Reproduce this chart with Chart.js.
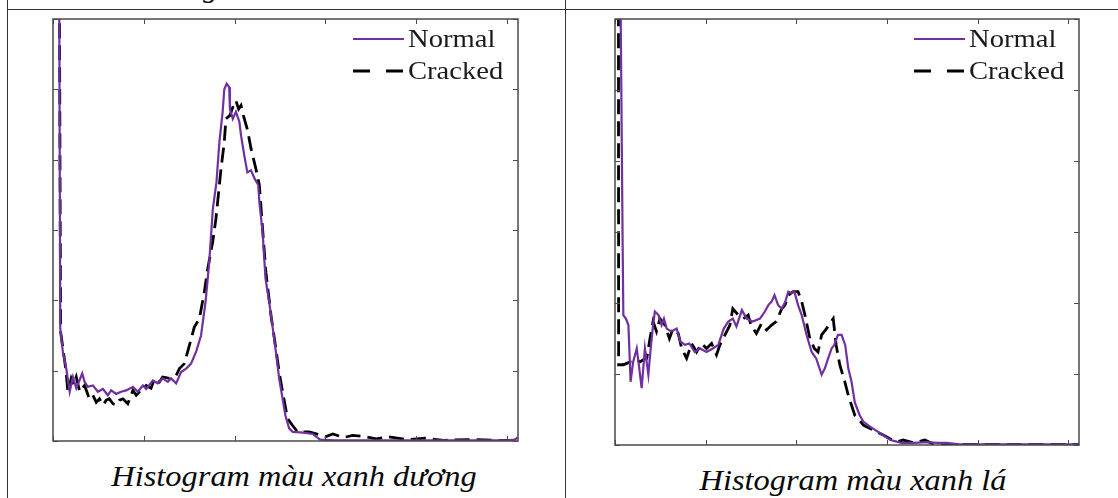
<!DOCTYPE html>
<html>
<head>
<meta charset="utf-8">
<script src="https://cdn.jsdelivr.net/npm/chart.js@4.4.1/dist/chart.umd.min.js"></script>
<style>
  body { margin: 0; background: #fff; width: 1118px; height: 498px; overflow: hidden; position: relative; }
  .rule { position: absolute; background: #333; }
  canvas { position: absolute; }
  .caption {
    position: absolute; width: 400px; text-align: center;
    font-family: "Liberation Serif", "Times New Roman", serif;
    font-style: italic; font-size: 30px;
    line-height: 30px; color: #0a0a0a; transform: scaleX(1.08);
  }
</style>
</head>
<body>
<div class="rule" style="left:7px; top:9px; width:1111px; height:1px;"></div>
<div class="rule" style="left:7px; top:0; width:1px; height:498px;"></div>
<div class="rule" style="left:565px; top:0; width:1px; height:498px;"></div>
<div class="caption" style="left:203px; top:-28px; width:20px; text-align:left; transform:none;">g</div>

<canvas id="blueChart" width="485" height="442" style="left:43px; top:9px;"></canvas>
<canvas id="greenChart" width="484" height="446" style="left:605px; top:9px;"></canvas>

<div class="caption" style="left:94px; top:461px;">Histogram màu xanh dương</div>
<div class="caption" style="left:653px; top:465px;">Histogram màu xanh lá</div>

<script>
// [intensity, count]; y unit = one tick step
const seriesNames = ["Normal", "Cracked"];
const xTicks = [0, 50, 100, 150, 200, 250];
const yTicks = [0, 1, 2, 3, 4, 5, 6];

const blueNormal = [
  [0,60],[2,60],[3,10],[4,1.6],[5.5,1.25],[7.3,1.03],[9.2,0.70],[11,0.91],[12.8,0.75],[16.1,0.96],
  [17.4,0.84],[19.2,0.77],[22,0.79],[24.7,0.70],[27.5,0.74],[30.2,0.65],[32,0.72],[34.8,0.67],[37.5,0.70],
  [40.3,0.72],[44,0.77],[46.7,0.70],[49.5,0.79],[51.3,0.74],[55,0.86],[57.7,0.82],[60.4,0.89],[63.2,0.84],
  [65,0.89],[67.8,0.82],[70.5,0.98],[73.3,1.03],[76,1.10],[78.8,1.27],[81.5,1.50],[84,1.98],[86,2.54],
  [88,3.30],[90,3.68],[91.6,4.25],[93.4,4.68],[94.3,5.0],[95.6,5.08],[97,5.03],[97.4,4.72],[99,4.58],
  [100.7,4.68],[102.6,4.54],[103.5,4.35],[105.3,4.06],[107,3.82],[109,3.85],[111,3.73],[113,3.64],
  [113.6,3.40],[115.4,2.97],[117,2.31],[119,1.98],[121,1.60],[122.7,1.27],[124.5,0.89],[126.4,0.60],
  [128,0.36],[130,0.18],[132,0.13],[138,0.12],[143,0.10],[147,0.02],[155,0.01],[170,0.01],[190,0.01],
  [210,0.01],[230,0.01],[250,0.01],[254,0.02],[256,0.05]
];
const blueCracked = [
  [0,60],[2,60],[3,10],[4.2,1.55],[7,1.03],[8.2,0.70],[10,0.89],[11.4,0.80],[12.8,0.91],[14.7,0.70],
  [17.4,0.79],[20,0.60],[22,0.65],[23.8,0.55],[25.6,0.60],[27.5,0.51],[29.3,0.58],[31,0.60],[33,0.53],
  [34.8,0.51],[36.6,0.58],[38.5,0.60],[41.2,0.53],[44,0.72],[45.8,0.65],[47.6,0.70],[51.3,0.79],[54,0.75],
  [55.9,0.89],[58.6,0.84],[60.4,0.91],[64.1,0.89],[67.8,0.93],[69.6,1.03],[72.3,1.10],[75.1,1.36],
  [77.8,1.62],[80.6,1.74],[83.3,2.12],[85.2,2.45],[87.9,2.83],[89.7,3.16],[92.5,3.87],[94.3,4.25],
  [95.2,4.58],[97.4,4.63],[99.3,4.77],[100.7,4.84],[102.2,4.72],[103.5,4.77],[104.8,4.63],[107.1,4.42],
  [109,4.16],[111.7,3.87],[113.6,3.64],[115.4,3.01],[117.2,2.40],[120,1.79],[122.7,1.31],[124.5,0.98],
  [126.4,0.70],[129.1,0.32],[131.9,0.22],[134.6,0.13],[141,0.13],[145,0.10],[150,0.06],[154,0.10],
  [160,0.05],[165,0.08],[172,0.06],[178,0.03],[185,0.06],[195,0.02],[205,0.04],[215,0.01],[230,0.02],
  [245,0.01],[256,0.01]
];
const greenNormal = [
  [0,60],[2,60],[3,6.5],[4.2,2.86],[4.6,1.83],[6,1.78],[7.4,1.69],[8.6,0.89],[10,1.17],[12,1.36],
  [13.4,1.08],[14.7,0.80],[16.5,1.36],[18.4,0.99],[19.7,1.36],[21,1.69],[22,1.88],[24,1.83],[25.7,1.69],
  [27,1.78],[28.5,1.64],[31,1.60],[34,1.64],[36,1.46],[38.6,1.41],[41,1.43],[44,1.31],[47,1.36],
  [50.5,1.31],[54,1.36],[57,1.41],[60,1.64],[62.5,1.74],[65,1.78],[67,1.67],[70,1.90],[72.6,1.78],
  [76,1.74],[80,1.78],[82.7,1.88],[84.6,1.97],[86.4,2.02],[88,2.11],[90,1.97],[92,1.92],[94,2.02],
  [95.6,2.16],[97.4,2.14],[99,2.16],[101,1.97],[103,1.83],[105.7,1.55],[108.5,1.31],[111,1.22],
  [114,0.99],[115.8,1.08],[117.6,1.22],[119.5,1.36],[121,1.41],[123,1.55],[125,1.55],[127,1.41],
  [128.7,1.08],[130.5,0.89],[132.3,0.60],[135,0.42],[137,0.33],[140.7,0.26],[143,0.22],[146,0.17],
  [149,0.12],[152,0.07],[158,0.03],[165,0.03],[172,0.04],[178,0.03],[183,0.03],[190,0.01],[210,0.01],
  [230,0.01],[256,0.01]
];
const greenCracked = [
  [0,60],[1,60],[2,1.13],[4.6,1.13],[6.5,1.15],[8.3,1.17],[10,1.17],[12,1.20],[13.8,1.17],[15.6,1.20],
  [17.5,1.22],[19.3,1.50],[21,1.74],[22.9,1.60],[24.8,1.78],[27.5,1.69],[30,1.50],[32,1.64],[34.9,1.57],
  [36.8,1.36],[39.5,1.22],[42.3,1.43],[45,1.31],[47.8,1.43],[50.5,1.36],[53.3,1.43],[56,1.27],[57.9,1.41],
  [60.7,1.55],[63.4,1.69],[65,1.92],[68,1.83],[70.8,1.78],[73.5,1.83],[75,1.69],[78,1.57],[80.8,1.71],
  [83.6,1.62],[86.4,1.69],[89,1.74],[92,1.92],[93.8,1.97],[95.6,2.11],[98.3,2.16],[101,2.16],[103,2.02],
  [104.8,1.83],[107.5,1.50],[110,1.36],[112,1.31],[114,1.55],[116.7,1.64],[120.4,1.78],[122,1.41],
  [124,1.13],[126.8,0.89],[128.7,0.70],[130.5,0.56],[132.3,0.42],[134,0.38],[137,0.28],[142.5,0.21],
  [148,0.14],[153,0.07],[156,0.05],[159,0.07],[165,0.03],[171,0.07],[175,0.02],[185,0.01],[200,0.01],
  [220,0.01],[240,0.01],[256,0.01]
];

const PURPLE = "#7030a0";

function toPoints(arr) {
  return arr.map(p => ({ x: p[0], y: p[1] }));
}

// box with inward ticks on all four sides, like the original plot
const boxTicks = {
  id: "boxTicks",
  afterDraw(chart) {
    const ctx = chart.ctx;
    const a = chart.chartArea;
    const xs = chart.scales.x, ys = chart.scales.y;
    ctx.save();
    ctx.strokeStyle = "#4a4a4a";
    ctx.lineWidth = 1.5;
    ctx.strokeRect(a.left, a.top, a.right - a.left, a.bottom - a.top);
    ctx.lineWidth = 1;
    ctx.beginPath();
    xTicks.forEach(v => {
      const px = Math.round(xs.getPixelForValue(v)) + 0.5;
      ctx.moveTo(px, a.bottom); ctx.lineTo(px, a.bottom - 5);
      ctx.moveTo(px, a.top); ctx.lineTo(px, a.top + 5);
    });
    yTicks.forEach(v => {
      const py = Math.round(ys.getPixelForValue(v)) + 0.5;
      ctx.moveTo(a.left, py); ctx.lineTo(a.left + 5, py);
      ctx.moveTo(a.right, py); ctx.lineTo(a.right - 5, py);
    });
    ctx.stroke();
    ctx.restore();
  }
};

// legend drawn inside the plot, top right (MATLAB style: two long dashes)
const innerLegend = {
  id: "innerLegend",
  afterDraw(chart) {
    const ctx = chart.ctx;
    const a = chart.chartArea;
    ctx.save();
    chart.data.datasets.forEach((ds, i) => {
      const y = a.top + 20 + i * 32;
      ctx.beginPath();
      ctx.strokeStyle = ds.borderColor;
      ctx.lineWidth = ds.borderWidth;
      ctx.setLineDash(ds.borderDash ? [17, 16] : []);
      ctx.moveTo(a.right - 165, y);
      ctx.lineTo(a.right - 114, y);
      ctx.stroke();
      ctx.setLineDash([]);
      ctx.save();
      ctx.translate(a.right - 110, y);
      ctx.scale(1.1, 1);
      ctx.fillStyle = "#1a1a1a";
      ctx.font = '26px "Liberation Serif", "Times New Roman", serif';
      ctx.textBaseline = "middle";
      ctx.fillText(ds.label, 0, 1);
      ctx.restore();
    });
    ctx.restore();
  }
};

function makeChart(id, normal, cracked) {
  return new Chart(document.getElementById(id), {
    type: "line",
    data: {
      datasets: [
        { label: seriesNames[0], data: toPoints(normal), borderColor: PURPLE, borderWidth: 2.2 },
        { label: seriesNames[1], data: toPoints(cracked), borderColor: "#000", borderWidth: 2.8, borderDash: [15, 7] }
      ]
    },
    options: {
      responsive: false,
      animation: false,
      layout: { padding: 10 },
      elements: { point: { radius: 0 }, line: { tension: 0 } },
      plugins: { legend: { display: false }, tooltip: { enabled: false } },
      scales: {
        x: { type: "linear", min: 0, max: 256, display: false },
        y: { min: 0, max: 6, display: false }
      }
    },
    plugins: [boxTicks, innerLegend]
  });
}

makeChart("blueChart", blueNormal, blueCracked);
makeChart("greenChart", greenNormal, greenCracked);
</script>
</body>
</html>
